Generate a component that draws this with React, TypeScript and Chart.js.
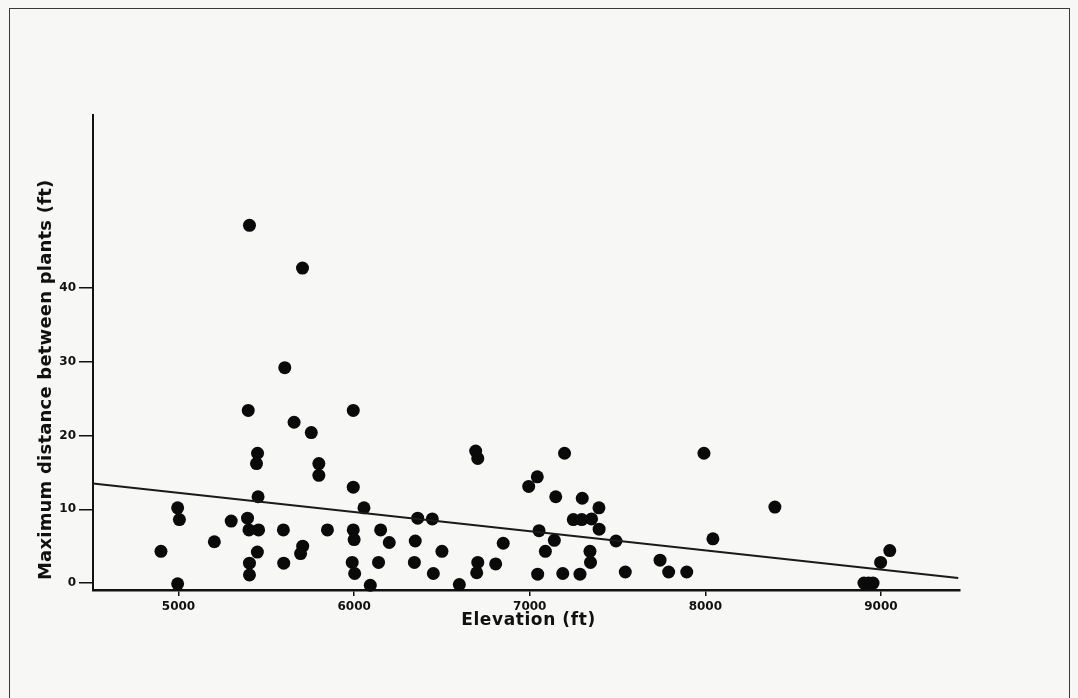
import React, { useEffect, useRef } from "react";
import { Chart, registerables } from "chart.js";

Chart.register(...registerables);

// Elevation (ft) of each site
const elevation = [
  4900, 4995, 5005, 4995, 5204, 5300, 5404, 5397, 5393, 5401,
  5456, 5450, 5444, 5453, 5449, 5404, 5404, 5605, 5658, 5756,
  5706, 5597, 5599, 5707, 5695, 5799, 5799, 5848, 5995, 5995,
  5995, 6000, 5989, 6003, 6056, 6092, 6151, 6139, 6200, 6362,
  6445, 6348, 6343, 6451, 6500, 6599, 6692, 6704, 6704, 6698,
  6806, 6849, 6994, 7043, 7053, 7045, 7089, 7148, 7140, 7198,
  7188, 7248, 7296, 7352, 7299, 7286, 7343, 7346, 7394, 7395,
  7491, 7544, 7742, 7791, 7894, 7992, 8043, 8396, 8903, 8929,
  8955, 8998, 9050,
];

// Maximum distance between plants (ft)
const maxDistance = [
  4.3, 10.2, 8.6, -0.1, 5.6, 8.4, 48.5, 23.4, 8.8, 7.2,
  7.2, 17.6, 16.2, 11.7, 4.2, 2.7, 1.1, 29.2, 21.8, 20.4,
  42.7, 7.2, 2.7, 5.0, 4.0, 16.2, 14.6, 7.2, 23.4, 13.0,
  7.2, 5.9, 2.8, 1.3, 10.2, -0.3, 7.2, 2.8, 5.5, 8.8,
  8.7, 5.7, 2.8, 1.3, 4.3, -0.2, 17.9, 16.9, 2.8, 1.4,
  2.6, 5.4, 13.1, 14.4, 7.1, 1.2, 4.3, 11.7, 5.8, 17.6,
  1.3, 8.6, 8.6, 8.7, 11.5, 1.2, 4.3, 2.8, 10.2, 7.3,
  5.7, 1.5, 3.1, 1.5, 1.5, 17.6, 6.0, 10.3, 0, 0,
  0, 2.8, 4.4,
];

// Regression line end points
const trendElevation = [4513, 9440];
const trendDistance = [13.5, 0.7];

const xTicks = [5000, 6000, 7000, 8000, 9000];
const yTicks = [0, 10, 20, 30, 40];
const xRange = [4513, 9450];
const yRange = [-0.94, 63.45];

const xTitle = "Elevation (ft)";
const yTitle = "Maximum distance between plants (ft)";

const INK = "#111111";

const axisTitles = {
  id: "axisTitles",
  afterDraw(chart: any) {
    const { ctx, chartArea } = chart;
    ctx.save();
    ctx.fillStyle = INK;
    ctx.font = 'bold 17px "DejaVu Sans"';
    (ctx as any).letterSpacing = "0.6px";
    ctx.textAlign = "center";
    ctx.textBaseline = "middle";
    ctx.fillText(xTitle, (chartArea.left + chartArea.right) / 2 + 2, chartArea.bottom + 31);
    ctx.translate(chartArea.left - 47, chartArea.bottom - 10);
    ctx.rotate(-Math.PI / 2);
    ctx.textAlign = "left";
    ctx.font = 'bold 18px "DejaVu Sans"';
    (ctx as any).letterSpacing = "0.2px";
    ctx.fillText(yTitle, 0, 0);
    ctx.restore();
  },
};

export default function App() {
  const canvasRef = useRef<HTMLCanvasElement | null>(null);

  useEffect(() => {
    if (!canvasRef.current) return;
    const points = elevation.map((x, i) => ({ x, y: maxDistance[i] }));
    const trend = trendElevation.map((x, i) => ({ x, y: trendDistance[i] }));
    const chart = new Chart(canvasRef.current, {
      type: "scatter",
      data: {
        datasets: [
          {
            type: "line",
            data: trend,
            borderColor: "#1a1a1a",
            borderWidth: 2,
            pointRadius: 0,
            fill: false,
            clip: false,
          } as any,
          {
            data: points,
            backgroundColor: "#0a0a0a",
            borderColor: "#0a0a0a",
            borderWidth: 0,
            pointRadius: 6.5,
            clip: false,
          } as any,
        ],
      },
      options: {
        responsive: false,
        animation: false,
        events: [],
        layout: { padding: { left: 0, right: 118, top: 115, bottom: 0 } },
        plugins: { legend: { display: false }, tooltip: { enabled: false } },
        scales: {
          x: {
            type: "linear",
            min: xRange[0],
            max: xRange[1],
            afterBuildTicks: (axis: any) => {
              axis.ticks = xTicks.map((v) => ({ value: v }));
            },
            afterFit: (scale: any) => {
              scale.height = 108;
            },
            border: { display: true, color: INK, width: 2.5 },
            grid: {
              display: true,
              drawOnChartArea: false,
              drawTicks: true,
              tickLength: 6,
              color: INK,
              lineWidth: 1.5,
            },
            ticks: {
              color: INK,
              padding: 4,
              maxRotation: 0,
              font: { family: "DejaVu Sans", size: 12, weight: "bold" },
              callback: (v: any) => String(v),
            },
          },
          y: {
            type: "linear",
            min: yRange[0],
            max: yRange[1],
            afterBuildTicks: (axis: any) => {
              axis.ticks = yTicks.map((v) => ({ value: v }));
            },
            afterFit: (scale: any) => {
              scale.width = 93;
            },
            border: { display: true, color: INK, width: 2 },
            grid: {
              display: true,
              drawOnChartArea: false,
              drawTicks: true,
              tickLength: 14,
              color: INK,
              lineWidth: 1.5,
            },
            ticks: {
              color: INK,
              padding: 3,
              font: { family: "DejaVu Sans", size: 12, weight: "bold" },
              callback: (v: any) => String(v),
            },
          },
        },
      },
      plugins: [axisTitles],
    });
    return () => chart.destroy();
  }, []);

  return (
    <div
      style={{
        position: "fixed",
        left: 0,
        top: 0,
        width: 1078,
        height: 698,
        background: "#f7f7f5",
        overflow: "hidden",
      }}
    >
      <div
        style={{
          position: "absolute",
          left: 9,
          top: 8,
          width: 1061,
          height: 720,
          border: "1.5px solid #3a3a3a",
          boxSizing: "border-box",
        }}
      />
      <canvas
        ref={canvasRef}
        width={1078}
        height={698}
        style={{ position: "absolute", left: 0, top: 0 }}
      />
    </div>
  );
}
